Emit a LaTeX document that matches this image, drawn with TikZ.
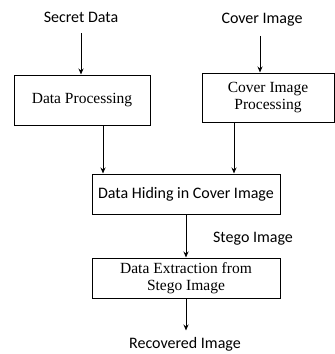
\documentclass[tikz,border=0pt]{standalone}
\usepackage{fontspec}
\setmainfont{Liberation Serif}
\newfontfamily\labelfont{Carlito}
\usetikzlibrary{arrows.meta,positioning,calc}

\begin{document}
\begin{tikzpicture}[
    x=1pt, y=-1pt,
    box/.style={draw, line width=1pt, align=center, inner sep=0pt, font=\fontsize{15.5}{17}\selectfont},
    lbl/.style={font=\labelfont\fontsize{16}{18}\selectfont, inner sep=1pt},
    arr/.style={-{Stealth[length=6pt,width=5pt]}, line width=1pt}
]
\useasboundingbox (0,0) rectangle (335,354);

\node[box, minimum width=136pt, minimum height=50pt] (dproc) at (82,100) {Data Processing};
\node[box, minimum width=132pt, minimum height=49pt] (cproc) at (268,97.5) {Cover Image\\Processing};
\node[box, minimum width=188pt, minimum height=40pt, font=\labelfont\fontsize{16}{18}\selectfont] (hide) at (186,194) {Data Hiding in Cover Image};
\node[box, minimum width=188pt, minimum height=40pt] (extract) at (186,278) {Data Extraction from\\Stego Image};

\node[lbl] (secret) at (81,17) {Secret Data};
\node[lbl] (cover) at (262,20) {Cover Image};
\node[lbl] (stego) at (253,239) {Stego Image};
\node[lbl] (recovered) at (185,344) {Recovered Image};

\draw[arr] (secret.south) ++(0,10) coordinate (s1) -- (s1 |- dproc.north);
\draw[arr] (cover.south) ++(-2,8) coordinate (c1) -- (c1 |- cproc.north);
\draw[arr] ($(dproc.south)+(21,0)$) coordinate (d1) -- (d1 |- hide.north);
\draw[arr] ($(cproc.south)+(-34,0)$) coordinate (d2) -- (d2 |- hide.north);
\draw[arr] (hide) -- (extract);
\draw[arr] (extract.south) -- ++(0,32) coordinate (r1);
\end{tikzpicture}
\end{document}
